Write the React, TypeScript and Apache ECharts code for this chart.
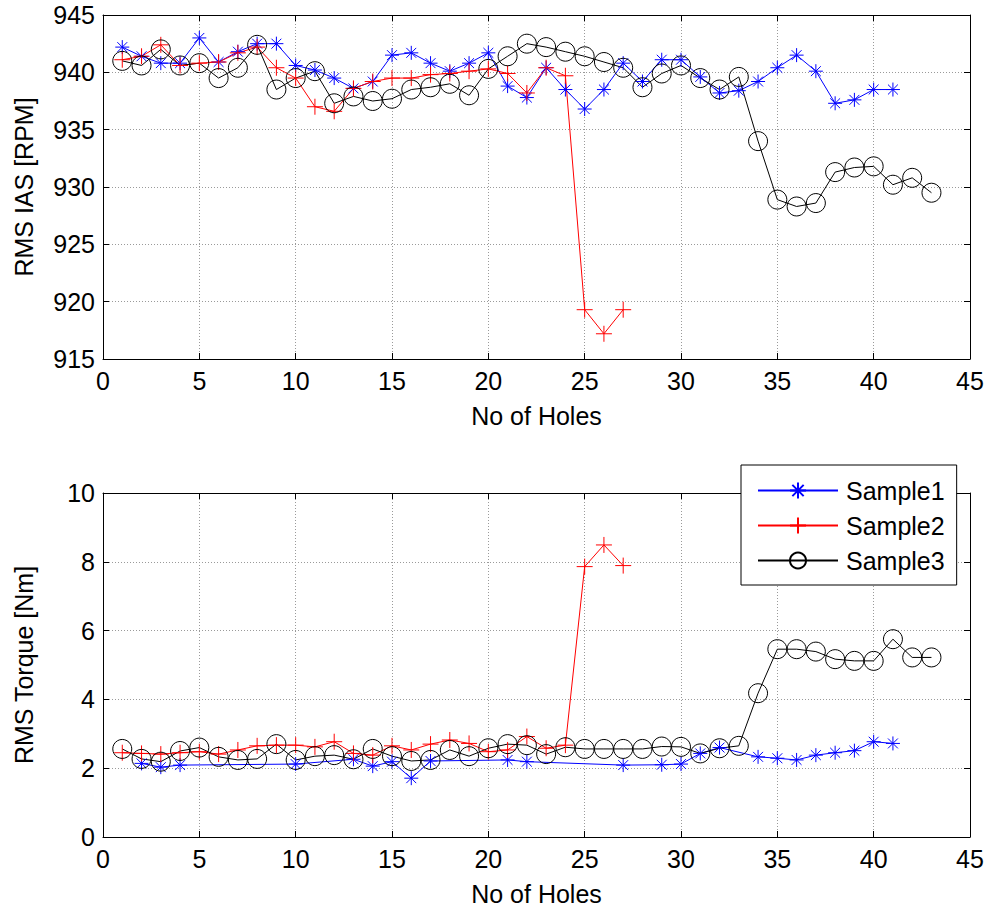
import React, { useEffect, useRef } from "react";
import * as echarts from "echarts";

// ---------- data ----------
const HOLES = [
  1, 2, 3, 4, 5, 6, 7, 8, 9, 10, 11, 12, 13, 14, 15, 16, 17, 18, 19, 20, 21, 22,
  23, 24, 25, 26, 27, 28, 29, 30, 31, 32, 33, 34, 35, 36, 37, 38, 39, 40, 41, 42, 43,
];

const SERIES_NAMES = ["Sample1", "Sample2", "Sample3"];

// RMS IAS [RPM]
const IAS_SAMPLE1 = [
  942.2, 941.4, 940.8, 940.8, 943.0, 940.9, 941.8, 942.5, 942.5, 940.6, 940.2,
  939.5, 938.6, 939.2, 941.5, 941.7, 940.8, 940.1, 940.8, 941.7, 938.8, 937.8,
  940.4, 938.5, 936.8, 938.5, 940.8, 939.2, 941.1, 941.1, 939.6, 938.2, 938.4,
  939.2, 940.4, 941.5, 940.1, 937.3, 937.6, 938.5, 938.5,
];
const IAS_SAMPLE2 = [
  941.1, 941.4, 942.4, 940.6, 940.8, 940.9, 941.7, 942.2, 940.4, 939.5, 937.0,
  936.6, 938.6, 939.2, 939.5, 939.5, 939.8, 939.9, 940.1, 940.3, 939.9, 938.2,
  940.4, 939.7, 919.3, 917.2, 919.3,
];
const IAS_SAMPLE3 = [
  941.0, 940.6, 942.0, 940.6, 940.8, 939.5, 940.4, 942.4, 938.5, 939.5, 940.1,
  937.3, 937.9, 937.5, 937.7, 938.5, 938.7, 939.0, 938.0, 940.3, 941.4, 942.5,
  942.2, 941.8, 941.4, 940.9, 940.4, 938.7, 939.9, 940.6, 939.5, 938.5, 939.6,
  934.0, 928.9, 928.3, 928.6, 931.3, 931.7, 931.8, 930.2, 930.8, 929.5,
];

// RMS Torque [Nm]
const TORQUE_SAMPLE1_HOLES = [
  2, 3, 4, 10, 13, 14, 15, 16, 17, 21, 22, 27, 29, 30, 31, 32, 34, 35, 36, 37, 38,
  39, 40, 41,
];
const TORQUE_SAMPLE1 = [
  2.14, 2.03, 2.09, 2.12, 2.26, 2.06, 2.19, 1.71, 2.21, 2.24, 2.19, 2.09, 2.1,
  2.12, 2.43, 2.6, 2.33, 2.29, 2.24, 2.38, 2.45, 2.51, 2.77, 2.72,
];
const TORQUE_SAMPLE2 = [
  2.45, 2.43, 2.41, 2.45, 2.48, 2.41, 2.53, 2.65, 2.67, 2.67, 2.62, 2.77, 2.43,
  2.38, 2.65, 2.53, 2.7, 2.82, 2.72, 2.48, 2.53, 2.92, 2.58, 2.67, 7.86, 8.49,
  7.89,
];
const TORQUE_SAMPLE3 = [
  2.56, 2.27, 2.19, 2.5, 2.6, 2.33, 2.24, 2.27, 2.7, 2.24, 2.35, 2.38, 2.26,
  2.56, 2.35, 2.21, 2.24, 2.53, 2.35, 2.58, 2.7, 2.67, 2.41, 2.61, 2.56, 2.56,
  2.56, 2.56, 2.63, 2.62, 2.43, 2.58, 2.65, 4.18, 5.46, 5.46, 5.39, 5.17, 5.12,
  5.12, 5.75, 5.22, 5.22,
];

const X_TICKS = { min: 0, max: 45, interval: 5 };
const IAS_TICKS = { min: 915, max: 945, interval: 5 };
const TORQUE_TICKS = { min: 0, max: 10, interval: 2 };

// ---------- styling ----------
const FONT = "'Liberation Sans', Arial, Helvetica, sans-serif";
const STAR =
  "path://M0,-10L0,10M-10,0L10,0M-7.07,-7.07L7.07,7.07M-7.07,7.07L7.07,-7.07";
const PLUS = "path://M0,-10L0,10M-10,0L10,0";
const COLORS = ["#0000ff", "#ff0000", "#000000"];
const SYMBOLS = [STAR, PLUS, "circle"];
const SIZES = [14, 16, 19];

function pair(xs: number[], ys: number[]) {
  return ys.map((y, i) => [xs[i], y]);
}

function makeSeries(k: number, data: number[][], grid: number) {
  return {
    type: "line",
    name: SERIES_NAMES[k],
    data,
    xAxisIndex: grid * 2,
    yAxisIndex: grid * 2,
    symbol: SYMBOLS[k],
    symbolSize: SIZES[k],
    color: COLORS[k],
    lineStyle: { color: COLORS[k], width: 1 },
    itemStyle: { color: "none", borderColor: COLORS[k], borderWidth: 1 },
    emphasis: { disabled: true },
    silent: true,
  };
}

const labelStyle = {
  fontFamily: FONT,
  fontSize: 25,
  color: "#000",
};

function mainX(grid: number) {
  return {
    type: "value",
    gridIndex: grid,
    position: "bottom",
    ...X_TICKS,
    name: "No of Holes",
    nameLocation: "middle",
    nameGap: 44,
    nameTextStyle: { ...labelStyle },
    axisLine: { show: true, onZero: false, lineStyle: { color: "#000", width: 1 } },
    axisTick: { show: true, inside: true, length: 6, lineStyle: { color: "#000" } },
    axisLabel: { ...labelStyle, margin: 9 },
    splitLine: { show: true, lineStyle: { color: "#9a9a9a", type: [1, 2], width: 1 } },
  };
}
function mirrorX(grid: number) {
  return {
    type: "value",
    gridIndex: grid,
    position: "top",
    ...X_TICKS,
    axisLine: { show: true, onZero: false, lineStyle: { color: "#000", width: 1 } },
    axisTick: { show: true, inside: true, length: 6, lineStyle: { color: "#000" } },
    axisLabel: { show: false },
    splitLine: { show: false },
  };
}
function mainY(grid: number, ticks: any, name: string) {
  return {
    type: "value",
    gridIndex: grid,
    position: "left",
    ...ticks,
    name,
    nameLocation: "middle",
    nameGap: 67,
    nameTextStyle: { ...labelStyle },
    axisLine: { show: true, onZero: false, lineStyle: { color: "#000", width: 1 } },
    axisTick: { show: true, inside: true, length: 6, lineStyle: { color: "#000" } },
    axisLabel: { ...labelStyle, margin: 8 },
    splitLine: { show: true, lineStyle: { color: "#9a9a9a", type: [1, 2], width: 1 } },
  };
}
function mirrorY(grid: number, ticks: any) {
  return {
    type: "value",
    gridIndex: grid,
    position: "right",
    ...ticks,
    axisLine: { show: true, onZero: false, lineStyle: { color: "#000", width: 1 } },
    axisTick: { show: true, inside: true, length: 6, lineStyle: { color: "#000" } },
    axisLabel: { show: false },
    splitLine: { show: false },
  };
}

export default function App() {
  const ref = useRef<HTMLDivElement>(null);
  useEffect(() => {
    document.body.style.margin = "0";
    if (!ref.current) return;
    const chart = echarts.init(ref.current, null, { renderer: "svg" });
    chart.setOption({
      animation: false,
      backgroundColor: "#ffffff",
      textStyle: { fontFamily: FONT },
      grid: [
        { left: 103, top: 15, width: 867, height: 344 },
        { left: 103, top: 493, width: 867, height: 344 },
      ],
      xAxis: [mainX(0), mirrorX(0), mainX(1), mirrorX(1)],
      yAxis: [
        mainY(0, IAS_TICKS, "RMS IAS [RPM]"),
        mirrorY(0, IAS_TICKS),
        mainY(1, TORQUE_TICKS, "RMS Torque [Nm]"),
        mirrorY(1, TORQUE_TICKS),
      ],
      legend: {
        data: SERIES_NAMES,
        orient: "vertical",
        left: 741,
        top: 465,
        padding: [13, 12, 12, 16],
        itemWidth: 80,
        itemHeight: 20,
        itemGap: 10,
        backgroundColor: "#ffffff",
        borderColor: "#000",
        borderWidth: 1,
        textStyle: { ...labelStyle, padding: [0, 0, 0, 3] },
        selectedMode: false,
      },
      series: [
        makeSeries(0, pair(HOLES, IAS_SAMPLE1), 0),
        makeSeries(1, pair(HOLES, IAS_SAMPLE2), 0),
        makeSeries(2, pair(HOLES, IAS_SAMPLE3), 0),
        makeSeries(0, pair(TORQUE_SAMPLE1_HOLES, TORQUE_SAMPLE1), 1),
        makeSeries(1, pair(HOLES, TORQUE_SAMPLE2), 1),
        makeSeries(2, pair(HOLES, TORQUE_SAMPLE3), 1),
      ],
    });
    return () => chart.dispose();
  }, []);
  return <div ref={ref} style={{ width: 989, height: 909 }} />;
}
